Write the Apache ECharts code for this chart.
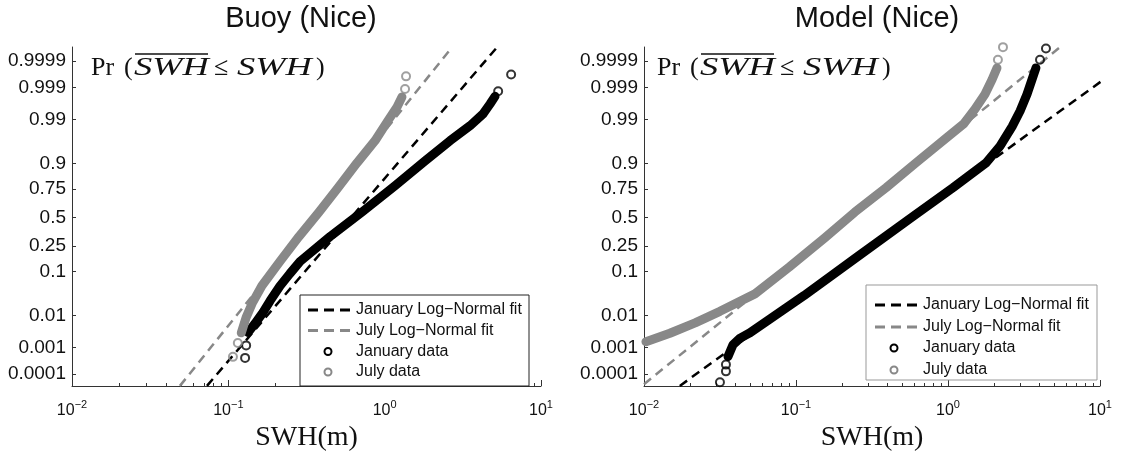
<!DOCTYPE html>
<html><head><meta charset="utf-8">
<script src="https://cdn.jsdelivr.net/npm/echarts@6/dist/echarts.min.js"></script>
<style>html,body{margin:0;padding:0;background:#fff}#c{width:1134px;height:457px}</style>
</head><body><div id="c"></div>
<script>
// ---------- data (SWH in m, cumulative probability) ----------
const panelTitles = ['Buoy (Nice)', 'Model (Nice)'];
const xAxisName = 'SWH(m)';
const probTicks = [0.0001, 0.001, 0.01, 0.1, 0.25, 0.5, 0.75, 0.9, 0.99, 0.999, 0.9999];
const probTickLabels = ['0.0001', '0.001', '0.01', '0.1', '0.25', '0.5', '0.75', '0.9', '0.99', '0.999', '0.9999'];
const xMinorTicks = [0.02,0.03,0.04,0.05,0.06,0.07,0.08,0.09,0.2,0.3,0.4,0.5,0.6,0.7,0.8,0.9,2,3,4,5,6,7,8,9];
const legendNames = ['January Log\u2212Normal fit', 'July Log\u2212Normal fit', 'January data', 'July data'];

// Buoy panel
const buoyJanFit = [[0.073, 0.000032], [5.24, 0.999974]];
const buoyJulFit = [[0.049, 0.000032], [2.70, 0.999974]];
const buoyJanBand = [[0.134,0.0032],[0.148,0.0059],[0.164,0.011],[0.185,0.024],[0.214,0.052],[0.248,0.092],[0.288,0.149],[0.448,0.326],[0.717,0.552],[1.17,0.776],[1.81,0.910],[2.62,0.966],[3.52,0.9854],[4.26,0.9931],[4.72,0.9965],[5.08,0.9980]];
const buoyJanTail = [[0.128,0.00043],[0.130,0.0012],[5.32,0.99865],[6.44,0.99966]];
const buoyJulBand = [[0.121,0.0031],[0.130,0.0089],[0.142,0.0207],[0.164,0.0526],[0.214,0.149],[0.283,0.326],[0.380,0.552],[0.503,0.761],[0.666,0.903],[0.868,0.966],[1.05,0.9893],[1.20,0.9957],[1.29,0.9979]];
const buoyJulTail = [[0.107,0.00047],[0.115,0.00144],[1.35,0.99886],[1.37,0.9996]];

// Model panel
const modelJanFit = [[0.0172, 0.000032], [11.3, 0.9996]];
const modelJulFit = [[0.0100, 0.000038], [5.46, 0.999974]];
const modelJanBand = [[0.0357,0.00048],[0.0385,0.00126],[0.0429,0.0021],[0.0498,0.0031],[0.0674,0.0080],[0.113,0.032],[0.256,0.179],[0.580,0.504],[1.08,0.761],[1.78,0.903],[2.20,0.955],[2.64,0.9846],[2.98,0.9943],[3.31,0.9983],[3.57,0.99948],[3.79,0.99981]];
const modelJanTail = [[0.0316,0.000046],[0.0346,0.00013],[0.0346,0.00024],[4.03,0.99991],[4.41,0.99997]];
const modelJulBand = [[0.0103,0.0016],[0.0148,0.0030],[0.0217,0.0062],[0.0316,0.0130],[0.0537,0.035],[0.0899,0.119],[0.155,0.316],[0.244,0.552],[0.391,0.761],[0.615,0.903],[0.970,0.970],[1.27,0.9871],[1.51,0.9951],[1.75,0.9983],[1.95,0.99948],[2.10,0.99981]];
const modelJulTail = [[2.13,0.99991],[2.30,0.999974]];

// ---------- probit (normal quantile) transform for the probability axis ----------
function probit(p) {
  const a=[-3.969683028665376e+01,2.209460984245205e+02,-2.759285104469687e+02,1.383577518672690e+02,-3.066479806614716e+01,2.506628277459239e+00];
  const b=[-5.447609879822406e+01,1.615858368580409e+02,-1.556989798598866e+02,6.680131188771972e+01,-1.328068155288572e+01];
  const c=[-7.784894002430293e-03,-3.223964580411365e-01,-2.400758277161838e+00,-2.549732539343734e+00,4.374664141464968e+00,2.938163982698783e+00];
  const d=[7.784695709041462e-03,3.224671290700398e-01,2.445134137142996e+00,3.754408661907416e+00];
  const pl=0.02425, ph=1-pl; let q,r;
  if (p<pl){q=Math.sqrt(-2*Math.log(p));return (((((c[0]*q+c[1])*q+c[2])*q+c[3])*q+c[4])*q+c[5])/((((d[0]*q+d[1])*q+d[2])*q+d[3])*q+1);}
  if (p<=ph){q=p-0.5;r=q*q;return (((((a[0]*r+a[1])*r+a[2])*r+a[3])*r+a[4])*r+a[5])*q/(((((b[0]*r+b[1])*r+b[2])*r+b[3])*r+b[4])*r+1);}
  q=Math.sqrt(-2*Math.log(1-p));return -(((((c[0]*q+c[1])*q+c[2])*q+c[3])*q+c[4])*q+c[5])/((((d[0]*q+d[1])*q+d[2])*q+d[3])*q+1);
}
const tz = arr => arr.map(d => [d[0], probit(d[1])]);
const zTicks = probTicks.map(probit);
const log10Minor = xMinorTicks.map(v => Math.log10(v));

const BLACK = '#000', GREY = '#888';
const AX = '#333';
const grids = [
  {left: 72, top: 47, width: 469, height: 345},
  {left: 644, top: 47, width: 456, height: 345}
];

function yAxisFor(gi) {
  return {
    type: 'value', gridIndex: gi, min: -4, max: 4.05,
    axisLine: {show: true, onZero: false, lineStyle: {color: AX, width: 1}},
    splitLine: {show: false},
    axisTick: {show: true, inside: true, length: 4, customValues: zTicks, lineStyle: {color: AX}},
    axisLabel: {
      customValues: zTicks, margin: 6, color: '#111', fontSize: 19, fontFamily: 'Liberation Sans',
      formatter: v => { const i = zTicks.findIndex(z => Math.abs(z - v) < 1e-6); return i >= 0 ? probTickLabels[i] : ''; }
    }
  };
}
function xAxisMain(gi) {
  return {
    type: 'log', logBase: 10, gridIndex: gi, min: 0.01, max: 10,
    name: xAxisName, nameLocation: 'middle', nameGap: 38,
    nameTextStyle: {fontFamily: 'Liberation Serif', fontSize: 28, color: '#111'},
    axisLine: {show: true, onZero: false, lineStyle: {color: AX, width: 1}},
    splitLine: {show: false},
    axisTick: {show: true, inside: true, length: 6, lineStyle: {color: AX}},
    minorTick: {show: false},
    axisLabel: {
      margin: 13, color: '#111',
      formatter: v => '{b|10}{s|' + String(Math.round(Math.log10(v))).replace('-', '\u2212') + '}',
      rich: {
        b: {fontSize: 16, fontFamily: 'Liberation Sans', color: '#111', verticalAlign: 'bottom', lineHeight: 20},
        s: {fontSize: 11, fontFamily: 'Liberation Sans', color: '#111', verticalAlign: 'top', lineHeight: 20}
      }
    }
  };
}
function xAxisMinor(gi) {
  return {
    type: 'value', gridIndex: gi, min: -2, max: 1, position: 'bottom', offset: 0,
    axisLine: {show: false, onZero: false}, splitLine: {show: false}, axisLabel: {show: false},
    axisTick: {show: true, inside: true, length: 3, customValues: log10Minor, lineStyle: {color: AX}}
  };
}

function fitSeries(name, data, color, xi, yi) {
  return {type: 'line', name, data: tz(data), xAxisIndex: xi, yAxisIndex: yi, symbol: 'none', clip: true,
    lineStyle: {color, width: 2.5, type: [9, 6]}, z: 2, silent: true};
}
function bandSeries(name, data, color, xi, yi) {
  return {type: 'line', name, data: tz(data), xAxisIndex: xi, yAxisIndex: yi, symbol: 'none', clip: true,
    lineStyle: {color, width: 9, cap: 'round', join: 'round'}, z: 3, silent: true};
}
function tailSeries(name, data, color, xi, yi) {
  return {type: 'scatter', name, data: tz(data), xAxisIndex: xi, yAxisIndex: yi, symbol: 'circle', symbolSize: 8,
    itemStyle: {color: 'rgba(0,0,0,0)', borderColor: color, borderWidth: 2}, z: 4, silent: true};
}

const series = [
  fitSeries(legendNames[0], buoyJanFit, BLACK, 0, 0),
  fitSeries(legendNames[1], buoyJulFit, GREY, 0, 0),
  bandSeries('buoy-jan', buoyJanBand, BLACK, 0, 0),
  tailSeries(legendNames[2], buoyJanTail, BLACK, 0, 0),
  bandSeries('buoy-jul', buoyJulBand, GREY, 0, 0),
  tailSeries(legendNames[3], buoyJulTail, GREY, 0, 0),
  fitSeries(legendNames[0], modelJanFit, BLACK, 2, 1),
  fitSeries(legendNames[1], modelJulFit, GREY, 2, 1),
  bandSeries('model-jan', modelJanBand, BLACK, 2, 1),
  tailSeries(legendNames[2], modelJanTail, BLACK, 2, 1),
  bandSeries('model-jul', modelJulBand, GREY, 2, 1),
  tailSeries(legendNames[3], modelJulTail, GREY, 2, 1)
];

// ---------- annotations: titles, Pr(...) label, legends ----------
const G = [];
function txt(x, y, text, font, align, extra) {
  G.push(Object.assign({type: 'text', x, y, silent: true, style: {text, font, fill: '#111', align: align || 'left', verticalAlign: 'middle'}}, extra || {}));
}
txt(301, 19, panelTitles[0], '29px "Liberation Sans"', 'center');
txt(877, 19, panelTitles[1], '29px "Liberation Sans"', 'center');

function prLabel(dx) {
  const R = '26px "Liberation Serif"', I = 'italic 26px "Liberation Serif"';
  txt(91 + dx, 68, 'Pr', R);
  txt(124 + dx, 68, '(', R);
  txt(134 + dx, 68, 'SWH', I, 'left', {scaleX: 1.4});
  G.push({type: 'line', silent: true, shape: {x1: 135 + dx, y1: 54, x2: 208 + dx, y2: 54}, style: {stroke: '#111', lineWidth: 1.3}});
  txt(214 + dx, 68, '\u2264', R);
  txt(237 + dx, 68, 'SWH', I, 'left', {scaleX: 1.4});
  txt(316 + dx, 68, ')', R);
}
prLabel(0); prLabel(566);

function legendBox(bx, by, bw, bh, rows, iconX, circX, textX, border) {
  G.push({type: 'rect', silent: true, shape: {x: bx, y: by, width: bw, height: bh}, style: {fill: '#fff', stroke: border, lineWidth: 1}, z: 10});
  const cols = [BLACK, GREY, BLACK, GREY];
  for (let i = 0; i < 4; i++) {
    const y = rows[i];
    if (i < 2) {
      G.push({type: 'line', silent: true, z: 11, shape: {x1: iconX, y1: y, x2: iconX + 42, y2: y},
        style: {stroke: cols[i], lineWidth: 3, lineDash: [10, 6]}});
    } else {
      G.push({type: 'circle', silent: true, z: 11, shape: {cx: circX, cy: y, r: 3.5},
        style: {fill: 'none', stroke: cols[i], lineWidth: 2}});
    }
    G.push({type: 'text', x: textX, y, z: 11, silent: true,
      style: {text: legendNames[i], font: '16px "Liberation Sans"', fill: '#111', align: 'left', verticalAlign: 'middle'}});
  }
}
legendBox(300, 295, 229, 91, [310, 330.5, 351.5, 372], 308, 328, 356, '#222');
legendBox(866, 285, 231, 95, [305, 327, 348, 370], 875, 894, 923, '#999');

const chart = echarts.init(document.getElementById('c'), null, {renderer: 'canvas'});
chart.setOption({
  animation: false,
  backgroundColor: '#fff',
  grid: grids,
  xAxis: [xAxisMain(0), xAxisMinor(0), xAxisMain(1), xAxisMinor(1)],
  yAxis: [yAxisFor(0), yAxisFor(1)],
  series,
  graphic: G
});
</script></body></html>
